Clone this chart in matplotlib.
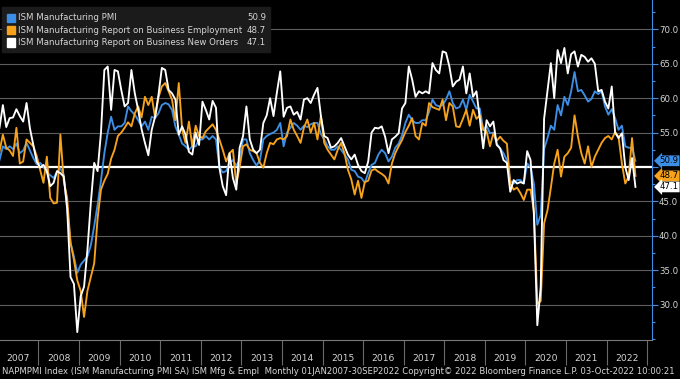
import matplotlib
matplotlib.use('Agg')
import matplotlib.pyplot as plt
import numpy as np
from matplotlib import font_manager
from matplotlib.ticker import MultipleLocator, FixedLocator, NullFormatter

# monthly values Jan 2007 - Sep 2022
pmi = [
    51.0, 53.0, 52.6, 53.0, 52.6, 53.4, 52.0, 52.4, 53.5, 52.4, 51.3, 50.4,
    50.6, 50.0, 49.2, 48.8, 48.4, 49.3, 49.8, 48.8, 44.0, 39.0, 37.0, 34.6,
    35.8, 36.4, 37.0, 38.6, 41.4, 44.5, 48.0, 52.0, 55.0, 57.3, 55.4, 55.9,
    55.9, 56.4, 58.8, 58.1, 57.6, 56.8, 55.9, 56.6, 55.4, 57.3, 57.1, 57.8,
    59.0, 59.3, 59.1, 58.3, 55.9, 54.7, 53.4, 53.0, 52.5, 53.0, 53.0, 54.0,
    54.0, 54.5, 54.0, 54.5, 54.0, 50.0, 49.2, 49.4, 50.6, 51.0, 50.2, 51.0,
    54.0, 54.0, 52.0, 51.0, 50.2, 51.0, 54.0, 54.5, 54.8, 55.0, 55.4, 56.4,
    53.0, 55.0, 55.7, 56.4, 56.0, 55.4, 56.0, 55.8, 56.2, 56.4, 56.4, 54.8,
    54.0, 53.0, 52.5, 52.5, 53.0, 52.5, 51.8, 51.1, 49.6, 49.4, 48.6, 48.4,
    47.7, 49.1, 50.3, 50.6, 51.8, 52.5, 52.0, 50.8, 51.5, 52.8, 53.4, 54.6,
    56.4, 57.6, 56.8, 56.4, 56.4, 56.8, 56.8, 58.0, 59.8, 59.0, 58.8, 59.0,
    59.8, 61.0, 59.3, 58.5, 58.7, 59.8, 58.3, 60.5, 59.5, 58.5, 58.5, 55.4,
    56.0, 54.9, 55.0, 53.4, 52.7, 52.0, 51.0, 48.0, 47.6, 48.1, 48.1, 47.6,
    50.5, 50.0, 47.5, 41.6, 43.0, 52.6, 54.2, 56.0, 55.4, 59.0, 57.5, 60.2,
    59.0, 61.0, 63.8, 61.0, 61.2, 60.4, 59.5, 59.9, 61.0, 60.6, 61.0, 58.8,
    57.6, 58.4, 57.1, 55.4, 56.0, 53.0, 52.8, 52.8, 50.9,
]
employment = [
    52.3, 54.7, 52.8, 52.4, 51.6, 55.7, 50.5, 50.8, 54.0, 53.5, 53.0, 51.6,
    49.6, 47.7, 51.5, 45.5, 44.7, 44.8, 54.7, 48.0, 45.5, 39.0, 36.5, 33.5,
    32.0, 28.2, 32.0, 34.0, 36.0, 42.5, 46.7, 48.0, 49.0, 51.2, 52.5, 54.5,
    55.0, 55.7, 56.5, 55.9, 57.8, 58.8, 57.2, 60.2, 59.0, 60.2, 57.2, 60.1,
    61.7, 62.2, 61.0, 59.8, 56.8, 62.2, 55.4, 53.5, 56.6, 53.0, 56.0, 54.5,
    54.2, 55.2, 55.7, 56.2, 55.4, 54.0, 52.5, 50.8, 52.0, 52.5, 47.5, 50.0,
    53.0, 53.3, 52.5, 52.3, 52.0, 50.6, 49.9, 52.0, 53.5, 53.3, 54.0, 54.2,
    54.0, 54.5, 56.9, 55.4, 54.5, 53.5, 55.7, 56.9, 55.0, 56.4, 54.0, 57.4,
    53.5, 52.5, 51.8, 51.1, 52.5, 53.5, 52.0, 49.6, 48.2, 46.0, 48.0, 45.5,
    47.8, 48.0, 49.5, 49.7, 49.3, 49.0, 48.6, 47.6, 50.5, 52.0, 53.0, 53.9,
    55.1, 56.0, 57.1, 54.5, 54.0, 56.4, 56.0, 59.3, 58.7, 58.5, 58.3, 59.8,
    56.8, 59.3, 58.8, 55.9, 55.8, 57.0, 58.3, 56.0, 58.3, 57.0, 57.5, 55.4,
    55.2, 53.0, 54.9, 53.8, 54.4, 53.8, 53.4, 47.6, 46.7, 47.0, 46.2, 45.2,
    46.7, 46.7, 43.5, 30.1, 30.5, 41.8, 43.7, 47.0, 50.5, 52.5, 48.6, 51.5,
    52.0, 52.8, 57.5, 54.4, 52.0, 50.5, 53.0, 50.0, 51.5, 52.5, 53.5, 54.2,
    54.5, 54.0, 55.1, 54.4, 50.5, 47.6, 48.6, 54.2, 48.7,
]
new_orders = [
    55.7, 59.0, 55.8, 57.1, 57.2, 58.4, 57.4, 56.6, 59.3, 55.6, 53.2, 50.8,
    49.9, 50.3, 49.4, 47.2, 47.7, 49.4, 49.1, 48.6, 44.0, 34.0, 33.0, 26.0,
    31.2, 32.6, 38.0, 44.8, 50.6, 49.4, 55.0, 64.1, 64.6, 58.3, 64.1, 63.9,
    61.2, 58.8, 59.3, 64.1, 60.7, 58.3, 55.5, 53.5, 51.7, 55.4, 57.3, 60.5,
    64.4, 64.1, 61.2, 60.7, 59.8, 54.7, 55.9, 54.7, 52.2, 51.8, 55.0, 53.2,
    59.5, 58.3, 56.9, 59.6, 58.6, 49.9, 47.2, 45.9, 52.0, 48.4, 46.7, 52.8,
    54.5, 58.8, 54.0, 52.5, 52.0, 52.5, 56.4, 57.5, 60.0, 57.4, 60.8, 63.9,
    57.3, 58.6, 58.8, 57.6, 58.0, 56.9, 59.8, 60.0, 59.3, 60.5, 61.5, 57.5,
    54.5, 54.2, 52.8, 53.0, 53.5, 54.2, 53.0, 51.8, 51.1, 51.8, 50.3, 49.4,
    49.1, 50.8, 55.0, 55.7, 55.6, 55.9, 54.4, 52.0, 54.0, 54.4, 54.9, 58.5,
    59.3, 64.6, 62.7, 60.2, 61.0, 60.7, 61.0, 60.7, 65.1, 64.1, 63.6, 66.8,
    66.6, 64.6, 61.7, 62.4, 62.7, 64.6, 60.7, 63.6, 60.2, 61.0, 57.0, 52.7,
    56.8, 55.9, 56.6, 53.2, 52.7, 51.0, 50.6, 46.4, 48.1, 47.6, 47.8, 47.6,
    52.3, 51.0, 43.0, 27.0, 32.6, 57.0, 61.0, 65.1, 60.0, 67.0, 65.1, 67.3,
    63.6, 66.4, 66.8, 64.6, 66.3, 66.0, 65.3, 65.8, 65.0, 61.0, 61.2, 59.5,
    58.5, 61.7, 55.0, 54.2, 54.9, 50.0, 48.1, 51.3, 47.1,
]
years = list(range(2007, 2023))
yticks = [30, 35, 40, 45, 50, 55, 60, 65, 70]
names = ['ISM Manufacturing PMI',
         'ISM Manufacturing Report on Business Employment',
         'ISM Manufacturing Report on Business New Orders']
colors = ['#3d8fe6', '#f7a21b', '#ffffff']
footer = ('NAPMPMI Index (ISM Manufacturing PMI SA) ISM Mfg & Empl  Monthly '
          '01JAN2007-30SEP2022 Copyright\u00a9 2022 Bloomberg Finance L.P. '
          '03-Oct-2022 10:00:21')

available = {f.name for f in font_manager.fontManager.ttflist}
if 'Liberation Sans Narrow' in available:
    plt.rcParams['font.family'] = ['Liberation Sans Narrow', 'DejaVu Sans']
    fs = 7.6
else:
    plt.rcParams['font.family'] = ['DejaVu Sans']
    fs = 6.2

txt = '#d6d6d6'
fig = plt.figure(figsize=(6.8, 3.79), dpi=100, facecolor='black')
ax = fig.add_axes([0, 39 / 379, 652 / 680, 340 / 379])
ax.set_facecolor('black')

x = np.arange(len(pmi))
ax.axhline(50, color='white', lw=1.6, zorder=2)
series = [pmi, employment, new_orders]
for vals, c in zip(series, colors):
    ax.plot(x, vals, color=c, lw=1.35, zorder=3)

ax.set_xlim(0.15, 192.9)
ax.set_ylim(24.85, 74.27)

# horizontal grid
for v in yticks:
    if v != 50:
        ax.axhline(v, color='#5c5c5c', lw=0.8, zorder=1)

# right axis (the 50.0 label sits under the value tags)
ax.yaxis.tick_right()
ax.yaxis.set_major_locator(FixedLocator(yticks))
ax.yaxis.set_minor_locator(MultipleLocator(2.5))
ax.set_yticklabels(['' if v == 50 else '%.1f' % v for v in yticks])
ax.tick_params(axis='y', which='major', colors=colors[0], labelcolor=txt,
               length=4, width=0.8, labelsize=fs, pad=1)
ax.tick_params(axis='y', which='minor', colors=colors[0], length=2.5, width=0.8)

# year separators and labels
ax.xaxis.set_major_locator(FixedLocator([12 * k - 0.5 for k in range(1, 17)]))
ax.xaxis.set_major_formatter(NullFormatter())
ax.xaxis.set_minor_locator(FixedLocator([12 * k + 5.5 for k in range(16)]))
ax.set_xticklabels([str(y) for y in years], minor=True)
ax.tick_params(axis='x', which='major', colors='#6a6a6a', length=18, width=0.8)
ax.tick_params(axis='x', which='minor', length=0, labelcolor=txt,
               labelsize=fs + 0.4, pad=10)

for s in ['top', 'left']:
    ax.spines[s].set_visible(False)
ax.spines['right'].set_color(colors[0])
ax.spines['bottom'].set_color('#7a7a7a')

# legend box
leg_vals = [pmi[-1], employment[-1], new_orders[-1]]
fig.patches.append(plt.Rectangle((2 / 680, 1 - 52 / 379), 268 / 680, 45 / 379,
                                 transform=fig.transFigure, color='#1b1b1b',
                                 zorder=5))
for i, (n, c, v) in enumerate(zip(names, colors, leg_vals)):
    yy = 1 - (18 + 12.2 * i) / 379
    fig.patches.append(plt.Rectangle((6.5 / 680, yy - 4.2 / 379), 8.5 / 680,
                                     8.5 / 379, transform=fig.transFigure,
                                     color=c, zorder=6))
    fig.text(18 / 680, yy, n, color=txt, fontsize=fs, va='center',
             ha='left', zorder=7)
    fig.text(266 / 680, yy, '%.1f' % v, color=txt, fontsize=fs,
             va='center', ha='right', zorder=7)

# last value tags on the right axis
for v, c in zip(leg_vals, colors):
    ax.annotate('%.1f' % v, xy=(1, v), xycoords=('axes fraction', 'data'),
                xytext=(5.5, 0), textcoords='offset points', va='center',
                ha='left', fontsize=fs, color='black', annotation_clip=False,
                bbox=dict(boxstyle='larrow,pad=0.1', fc=c, ec='none'),
                zorder=10)

fig.text(2 / 680, 8 / 379, footer, color=txt, fontsize=fs - 0.1,
         va='center', ha='left')

fig.savefig('out.png', dpi=100, facecolor='black')
